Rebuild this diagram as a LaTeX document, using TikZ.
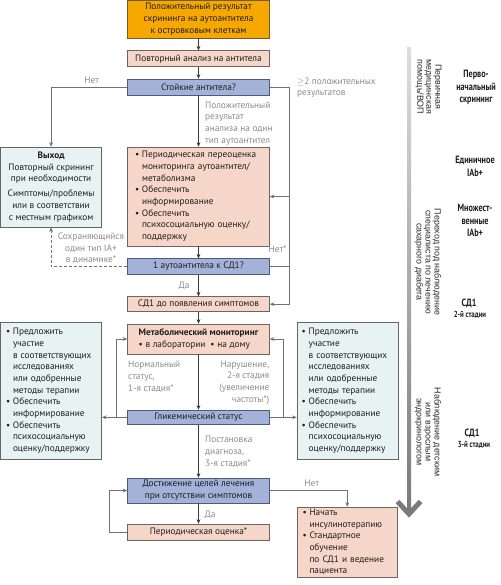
\documentclass[tikz,border=0pt]{standalone}
\usepackage{fontspec}
\setmainfont{PT Sans}
\newfontfamily\condfont[FakeStretch=0.78]{PT Sans}
\newfontfamily\vfont{Liberation Sans}
\usetikzlibrary{arrows.meta}
\definecolor{orf}{HTML}{F6A800}
\definecolor{ord}{HTML}{6E5B3B}
\definecolor{pkf}{HTML}{F7D6CA}
\definecolor{pkd}{HTML}{6E6462}
\definecolor{blf}{HTML}{A4B2D9}
\definecolor{bld}{HTML}{4E5A7E}
\definecolor{cyf}{HTML}{E7F3F3}
\definecolor{cyd}{HTML}{5F6767}
\definecolor{lblc}{HTML}{8A8A8A}
\definecolor{lnc}{HTML}{3A3A3A}
\definecolor{lnsc}{HTML}{707070}
\definecolor{txtc}{HTML}{1E1E1E}
\definecolor{barT}{HTML}{DDDDDD}
\definecolor{barB}{HTML}{7A7A7A}
\definecolor{vtc}{HTML}{2B2B2B}
\newcommand{\mf}{\fontsize{9.3pt}{11.67pt}\selectfont}
\newcommand{\bl}{\makebox[7pt][l]{•}}
\newcommand{\ind}{\hspace*{7pt}}
\tikzset{
  box/.style={line width=0.6pt, inner sep=0pt, minimum width=142pt, align=center, font=\mf, text=txtc},
  orbox/.style={box, fill=orf, draw=ord},
  pkbox/.style={box, fill=pkf, draw=pkd},
  blbox/.style={box, fill=blf, draw=bld},
  cybox/.style={box, fill=cyf, draw=cyd},
  lbl/.style={text=lblc, font=\mf, inner sep=0pt, align=left},
  arr/.style={draw=lnc, line width=0.6pt, -{Stealth[length=4.5pt,width=3.8pt]}},
  sline/.style={draw=lnsc, line width=0.6pt},
  sarr/.style={sline, -{Stealth[length=4.5pt,width=3.8pt]}},
  rlab/.style={font=\condfont\bfseries\fontsize{10.5pt}{12.5pt}\selectfont, align=center, inner sep=0pt, text=txtc},
  rlabs/.style={font=\condfont\bfseries\fontsize{8.8pt}{9pt}\selectfont, align=center, inner sep=0pt, text=txtc},
  vlab/.style={font=\vfont\fontsize{8.9pt}{9pt}\selectfont, rotate=-90, align=center, inner sep=0pt, text=vtc}
}
\begin{document}
\begin{tikzpicture}[x=1pt,y=-1pt]
\useasboundingbox (0,0) rectangle (500,585);

% right gradient bar with chevron
\shade[top color=barT, bottom color=barB] (407,48) rectangle (411,509);
\draw[barB, line width=5pt] (397.5,501.5) -- (409,514) -- (420.5,501.5);

% main column
\node[orbox, minimum height=37.5pt] (top) at (198.5,19.25) {Положительный результат\\скрининга на аутоантитела\\к островковым клеткам};
\node[pkbox, minimum height=16pt] (rep) at (198.5,58.7) {Повторный анализ на антитела};
\node[blbox, minimum height=16pt] (persist) at (198.5,87) {Стойкие антитела?};
\node[pkbox, text width=127pt, inner xsep=7.5pt, minimum height=99pt, align=left] (periodic) at (198.5,196.5)
 {\bl Периодическая переоценка\\\ind мониторинга аутоантител/\\\ind метаболизма\\\bl Обеспечить\\\ind информирование\\\bl Обеспечить\\\ind психосоциальную оценку/\\\ind поддержку};
\node[blbox, minimum height=15.5pt] (one) at (198.5,266.5) {1 аутоантитела к СД1?};
\node[pkbox, minimum height=15pt] (pre) at (198.5,304.2) {СД1 до появления симптомов};
\node[pkbox, minimum height=30pt, align=left] (met) at (198.5,339) {\textbf{Метаболический мониторинг}\\\bl в лаборатории\hspace{5pt}\bl на дому};
\node[blbox, minimum height=14.5pt] (glyc) at (198.5,417.3) {Гликемический статус};
\node[blbox, minimum height=25pt] (dost) at (198.5,490.5) {Достижение целей лечения\\при отсутствии симптомов};
\node[pkbox, minimum height=16pt] (passess) at (198.5,532) {Периодическая оценка*};

% side boxes
\node[cybox, minimum width=101.2pt, minimum height=80pt] (exit) at (51.1,187)
 {\textbf{Выход}\\Повторный скрининг\\при необходимости\\[3.3pt]Симптомы/проблемы\\или в соответствии\\с местным графиком};
\node[cybox, minimum width=0pt, text width=90.2pt, inner xsep=5.5pt, minimum height=136.6pt, align=left] (leftc) at (51.1,391)
 {\bl Предложить\\\ind участие\\\ind в соответствующих\\\ind исследованиях\\\ind или одобренные\\\ind методы терапии\\\bl Обеспечить\\\ind информирование\\\bl Обеспечить\\\ind психосоциальную\\\ind оценку/поддержку};
\node[cybox, minimum width=0pt, text width=91.6pt, inner xsep=4.7pt, minimum height=136.6pt, align=left] (rightc) at (347.5,391)
 {\bl Предложить\\\ind участие\\\ind в соответствующих\\\ind исследованиях\\\ind или одобренные\\\ind методы терапии\\\bl Обеспечить\\\ind информирование\\\bl Обеспечить\\\ind психосоциальную\\\ind оценку/поддержку};
\node[pkbox, minimum width=0pt, text width=89.5pt, inner xsep=5.5pt, minimum height=70pt, align=left] (insulin) at (347.25,542)
 {\bl Начать\\\ind инсулинотерапию\\\bl Стандартное\\\ind обучение\\\ind по СД1 и ведение\\\ind пациента};

% helper coordinates
\coordinate (rj) at (289.5,304.2);
\coordinate (ll) at (116,417.3);
\coordinate (rl) at (283.5,417.3);
\coordinate (pl) at (109.3,532);

% connectors
\draw[arr] (top) -- (rep);
\draw[arr] (rep) -- (persist);
\draw[sarr] (persist.west) -| (exit.north);
\draw[arr] (persist) -- (periodic);
\draw[sarr] (persist.east) -| (rj) -- (pre.east);
\draw[sarr] (periodic.east -| rj) -- (periodic.east);
\draw[sline] (one.east) -- (one.east -| rj);
\draw[arr] (periodic) -- (one);
\draw[sarr, dash pattern=on 3pt off 2pt] (one.west) -| (exit.south);
\draw[arr] (one) -- (pre);
\draw[arr] (pre) -- (met);
\draw[arr] (met) -- (glyc);
\draw[sline] (glyc.west) -- (ll);
\draw[sarr] (ll) -- (leftc.east |- ll);
\draw[sarr] (ll) |- (met.west);
\draw[sline] (glyc.east) -- (rl);
\draw[sarr] (rl) -- (rightc.west |- rl);
\draw[sarr] (rl) |- (met.east);
\draw[arr] (glyc) -- (dost);
\draw[arr] (dost) -- (passess);
\draw[sarr] (passess.west) -- (pl) |- (dost.west);
\draw[sarr] (dost.east) -| (insulin.north);

% connector labels
\node[lbl] (lno1) at (91.7,80) {Нет};
\node[lbl, anchor=west] (lpos) at (205,123.2) {Положительный\\результат\\анализа на один\\тип аутоантител};
\node[lbl, anchor=west] (lge2) at (297,87.5) {$\geq$2 положительных\\результатов};
\node[lbl] (lno2) at (277.5,249.5) {Нет*};
\node[lbl, align=center] (lkeep) at (91,248.3) {Сохраняющийся\\один тип IA+\\в динамике*};
\node[lbl] (lyes1) at (184,285.7) {Да};
\node[lbl, anchor=west] (lnorm) at (128,376.7) {Нормальный\\статус,\\1-я стадия*};
\node[lbl, anchor=east, align=right] (lviol) at (269.5,382.5) {Нарушение,\\2-я стадия\\(увеличение\\частоты*)};
\node[lbl, anchor=west] (ldiag) at (205,451.7) {Постановка\\диагноза,\\3-я стадия*};
\node[lbl] (lyes2) at (210,515) {Да};
\node[lbl] (lno3) at (311.7,483.3) {Нет};

% vertical care-level texts
\node[vlab] (v1) at (428.5,87) {Первичная\\медицинская\\помощь/ВОП};
\node[vlab] (v2) at (428,262) {Переход под наблюдение\\специалиста по лечению\\сахарного диабета};
\node[vlab] (v3) at (428,432) {Наблюдение детским\\или взрослым\\эндокринологом};

% stage labels
\node[rlab] (s1) at (476,87.5) {Перво-\\начальный\\скрининг};
\node[rlab] (s2) at (475,166.5) {Единичное\\IAb+};
\node[rlab] (s3) at (475,220.5) {Множест-\\венные\\IAb+};
\node[rlab] (s4a) at (469,303.3) {СД1};
\node[rlabs] (s4b) at (470,315) {2-й стадии};
\node[rlab] (s5a) at (472,433.3) {СД1};
\node[rlabs] (s5b) at (474,445) {3-й стадии};
\end{tikzpicture}
\end{document}
